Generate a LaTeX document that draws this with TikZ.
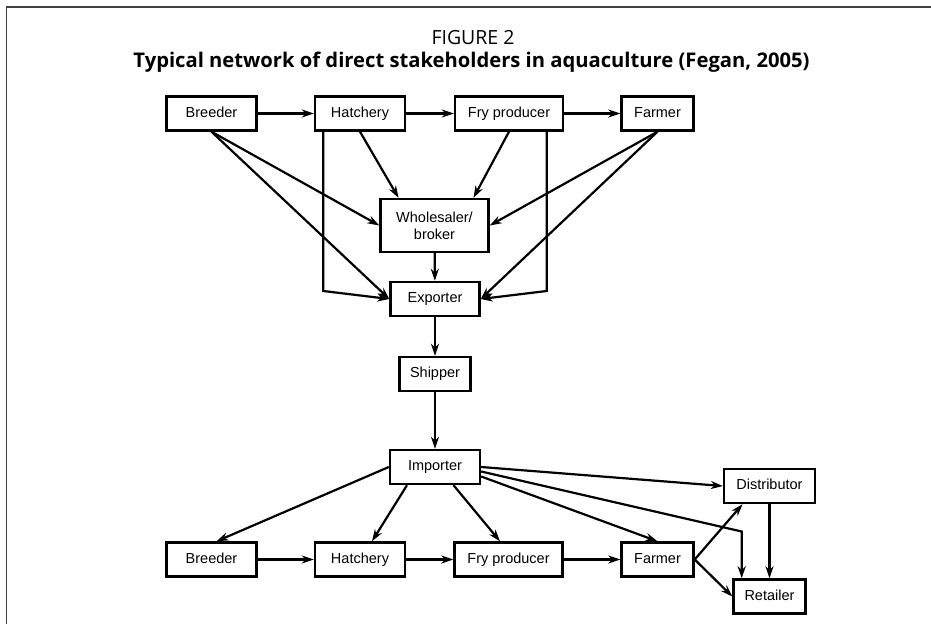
\documentclass[tikz,border=0pt]{standalone}
\usepackage{fontspec}
\usetikzlibrary{arrows.meta}
\setmainfont{Open Sans}
\newfontfamily\boxfont{Liberation Sans}
\begin{document}
\begin{tikzpicture}[
    x=1pt,y=-1pt,
    boxBase/.style={draw=black,line width=2.4pt,fill=white,minimum height=34pt,inner sep=2pt,font=\boxfont\fontsize{14.5}{17}\selectfont},
    chainBox/.style={boxBase,text height=10.5pt,text depth=3.5pt},
    chainArrow/.style={->,>={Stealth[length=12pt,width=8pt]},line width=2.2pt,color=black},
]
\useasboundingbox (0,0) rectangle (931,624);
\draw[line width=1.3pt,color=black!75] (6.5,624) -- (6.5,7) -- (931,7);
\node[font=\fontsize{19.5}{22}\selectfont] (FIG) at (473,38) {FIGURE 2};
\node[font=\bfseries\fontsize{20.2}{23}\selectfont] (TITLE) at (471.5,62) {Typical network of direct stakeholders in aquaculture (Fegan, 2005)};

% export side
\node[chainBox,minimum width=90pt] (BREED) at (211.5,113.5) {Breeder};
\node[chainBox,minimum width=90pt] (HATCH) at (360,113.5) {Hatchery};
\node[chainBox,minimum width=108pt] (FRY) at (509,113.5) {Fry producer};
\node[chainBox,minimum width=72pt] (FARM) at (657.5,113.5) {Farmer};
\node[boxBase,minimum width=108pt,minimum height=53pt,align=center] (WHOLE) at (434.5,225.5) {Wholesaler/\\broker};
\node[chainBox,minimum width=89pt] (EXPORT) at (435,299) {Exporter};
\node[chainBox,minimum width=71pt] (SHIP) at (435,374) {Shipper};
% import side
\node[chainBox,minimum width=90pt] (IMPORT) at (435,467) {Importer};
\node[chainBox,minimum width=90pt] (BREED2) at (211.5,559.5) {Breeder};
\node[chainBox,minimum width=90pt] (HATCH2) at (360,559.5) {Hatchery};
\node[chainBox,minimum width=108pt] (FRY2) at (508.5,559.5) {Fry producer};
\node[chainBox,minimum width=72pt] (FARM2) at (657.5,559.5) {Farmer};
\node[chainBox,minimum width=91pt] (DISTR) at (769.5,486) {Distributor};
\node[chainBox,minimum width=72pt] (RETAIL) at (769.5,596.5) {Retailer};

\coordinate (HL) at (323.3,291);
\coordinate (FL) at (546.7,291);
\coordinate (RC) at (741.7,531.5);

\draw[chainArrow] (BREED) -- (HATCH);
\draw[chainArrow] (HATCH) -- (FRY);
\draw[chainArrow] (FRY) -- (FARM);
\draw[chainArrow] (BREED.south) -- (WHOLE.west);
\draw[chainArrow] (BREED.south) -- (EXPORT.west);
\draw[chainArrow] (HATCH.south) -- ([xshift=-36pt]WHOLE.north);
\draw[chainArrow] (FRY.south) -- ([xshift=39pt]WHOLE.north);
\draw[chainArrow] (HL |- HATCH.south) -- (HL) -- (EXPORT.west);
\draw[chainArrow] (FL |- FRY.south) -- (FL) -- (EXPORT.east);
\draw[chainArrow] (FARM.south) -- (WHOLE.east);
\draw[chainArrow] (FARM.south) -- (EXPORT.east);
\draw[chainArrow] (WHOLE) -- (EXPORT);
\draw[chainArrow] (EXPORT) -- (SHIP);
\draw[chainArrow] (SHIP) -- (IMPORT);

\draw[chainArrow] (IMPORT.west) -- ([xshift=5pt]BREED2.north);
\draw[chainArrow] ([xshift=-28pt]IMPORT.south) -- ([xshift=12pt]HATCH2.north);
\draw[chainArrow] ([xshift=18.5pt]IMPORT.south) -- ([xshift=-8.5pt]FRY2.north);
\draw[chainArrow] ([yshift=-9.5pt]IMPORT.east) -- (FARM2.north);
\draw[chainArrow] (IMPORT.east) -- (DISTR.west);
\draw[chainArrow] ([yshift=-4.5pt]IMPORT.east) -- (RC) -- (RC |- RETAIL.north);
\draw[chainArrow] (DISTR) -- (RETAIL);
\draw[chainArrow] (BREED2) -- (HATCH2);
\draw[chainArrow] (HATCH2) -- (FRY2);
\draw[chainArrow] (FRY2) -- (FARM2);
\draw[chainArrow] (FARM2.east) -- ([xshift=-27pt]DISTR.south);
\draw[chainArrow] (FARM2.east) -- (RETAIL.west);
\end{tikzpicture}
\end{document}
